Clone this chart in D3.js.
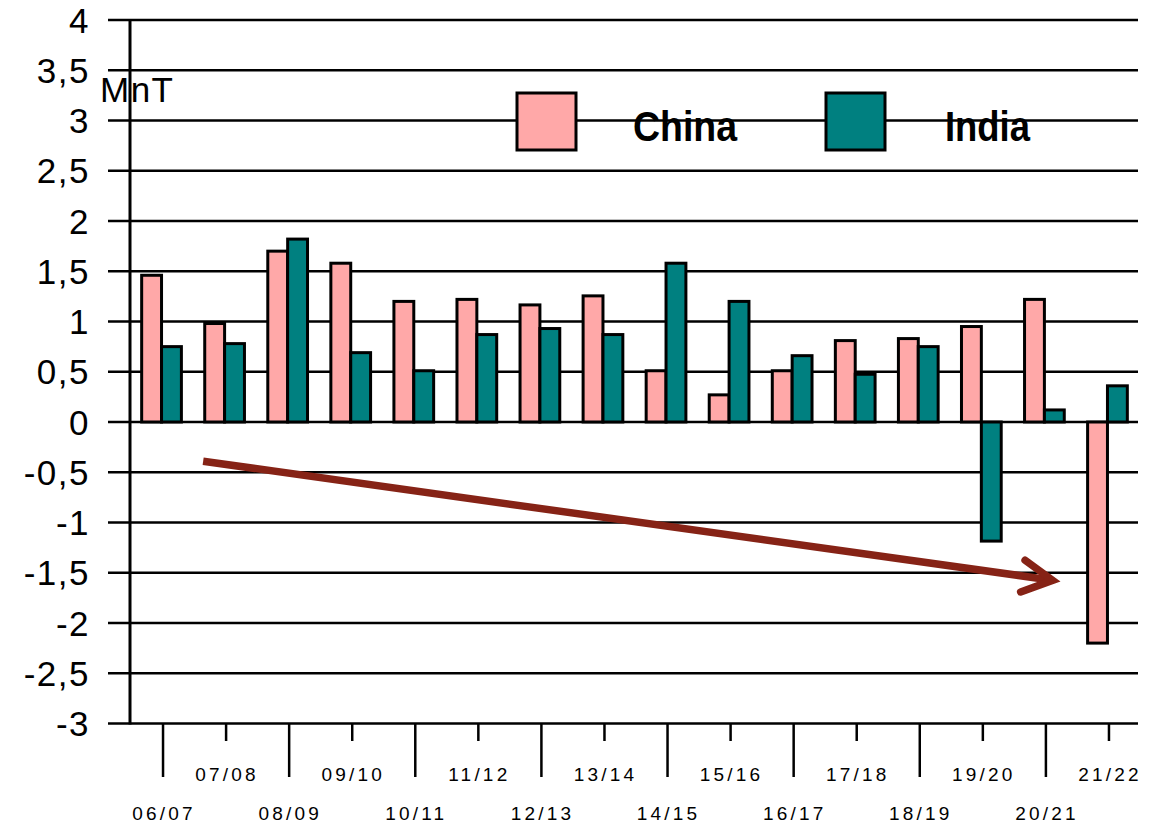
<!DOCTYPE html>
<html>
<head>
<meta charset="utf-8">
<script src="https://cdn.jsdelivr.net/npm/d3@7"></script>
<style>
  html, body { margin: 0; padding: 0; background: #fff; }
  svg { display: block; font-family: "Liberation Sans", Arial, sans-serif; }
</style>
</head>
<body>
<svg id="chart" width="1157" height="824"></svg>
<script>
// Marketing years
const seasons = ["06/07","07/08","08/09","09/10","10/11","11/12","12/13","13/14",
                 "14/15","15/16","16/17","17/18","18/19","19/20","20/21","21/22"];
// Series (million tonnes)
const china = [1.46, 0.98, 1.70, 1.58, 1.20, 1.22, 1.165, 1.255,
               0.51, 0.27, 0.51, 0.81, 0.83, 0.95, 1.22, -2.20];
const india = [0.75, 0.78, 1.82, 0.69, 0.51, 0.87, 0.93, 0.87,
               1.58, 1.20, 0.66, 0.475, 0.75, -1.185, 0.12, 0.36];
const seriesNames = ["China", "India"];
const seriesColors = ["#FFA8A8", "#008080"];
// Value axis ticks
const yTicks = [4, 3.5, 3, 2.5, 2, 1.5, 1, 0.5, 0, -0.5, -1, -1.5, -2, -2.5, -3];
const unitLabel = "MnT";
// Trend annotation: from the 07/08 season towards 20/21
const trendFrom = { season: "07/08", value: -0.39 };
const trendTo   = { season: "20/21", value: -1.575 };

const svg = d3.select("#chart");
const plotLeft = 130, plotRight = 1139, plotTop = 20, plotBottom = 723.5;

const x = d3.scaleBand().domain(seasons).range([plotLeft, plotRight])
  .paddingInner(0.37).paddingOuter(0.185);
const xSeries = d3.scaleBand().domain(seriesNames).range([0, x.bandwidth()]);
const y = d3.scaleLinear().domain([-3, 4]).range([plotBottom, plotTop]);
const step = x.step();

// Horizontal gridlines (one per tick)
svg.append("g").selectAll("line").data(yTicks).join("line")
  .attr("x1", plotLeft - 22).attr("x2", plotRight - 1)
  .attr("y1", d => y(d)).attr("y2", d => y(d))
  .attr("stroke", "#000").attr("stroke-width", 2.5);

// Value-axis labels with decimal commas
svg.append("g").selectAll("text").data(yTicks).join("text")
  .attr("x", 90).attr("y", d => y(d))
  .attr("dy", "0.36em")
  .attr("text-anchor", "end")
  .attr("font-size", 35)
  .attr("letter-spacing", 1.5)
  .text(d => String(d).replace(".", ","));

// Vertical axis line
svg.append("line")
  .attr("x1", plotLeft).attr("x2", plotLeft)
  .attr("y1", plotTop).attr("y2", plotBottom + 1)
  .attr("stroke", "#000").attr("stroke-width", 3);

// Unit label
svg.append("text")
  .attr("x", 100).attr("y", 102)
  .attr("font-size", 35)
  .attr("letter-spacing", 1.5)
  .text(unitLabel);

// Bars
const rows = seasons.map((s, i) => ({ season: s, values: [china[i], india[i]] }));
const groups = svg.append("g").selectAll("g").data(rows).join("g")
  .attr("transform", d => `translate(${x(d.season)},0)`);
groups.selectAll("rect")
  .data(d => d.values.map((v, k) => ({ name: seriesNames[k], color: seriesColors[k], v })))
  .join("rect")
  .attr("x", d => xSeries(d.name))
  .attr("width", xSeries.bandwidth())
  .attr("y", d => y(Math.max(0, d.v)))
  .attr("height", d => Math.abs(y(d.v) - y(0)))
  .attr("fill", d => d.color)
  .attr("stroke", "#000").attr("stroke-width", 3);

// Category axis: ticks alternate long/short with labels in two rows
const cx = s => x(s) + x.bandwidth() / 2;
svg.append("g").selectAll("line").data(seasons).join("line")
  .attr("x1", d => cx(d) + 1.5).attr("x2", d => cx(d) + 1.5)
  .attr("y1", plotBottom).attr("y2", (d, i) => i % 2 === 0 ? 777 : 741)
  .attr("stroke", "#000").attr("stroke-width", 2.5);
svg.append("g").selectAll("text").data(seasons).join("text")
  .attr("x", d => cx(d) + 2.5)
  .attr("y", (d, i) => i % 2 === 0 ? 820 : 781)
  .attr("text-anchor", "middle")
  .attr("font-size", 19)
  .attr("letter-spacing", 3.2)
  .text(d => d);

// Legend
const legendItems = [
  { name: seriesNames[0], color: seriesColors[0], bx: 517, tx: 633, tw: 104 },
  { name: seriesNames[1], color: seriesColors[1], bx: 826, tx: 945, tw: 85 }
];
const lg = svg.append("g").selectAll("g").data(legendItems).join("g");
lg.append("rect")
  .attr("x", d => d.bx).attr("y", 93).attr("width", 59).attr("height", 57)
  .attr("fill", d => d.color).attr("stroke", "#000").attr("stroke-width", 3);
lg.append("text")
  .attr("x", d => d.tx).attr("y", 141)
  .attr("font-size", 42).attr("font-weight", "bold")
  .attr("textLength", d => d.tw).attr("lengthAdjust", "spacingAndGlyphs")
  .text(d => d.name);

// Trend arrow
const ax0 = x(trendFrom.season) - (step - x.bandwidth()) / 2 + 0.16 * step;
const ay0 = y(trendFrom.value);
const ax1 = x(trendTo.season) - (step - x.bandwidth()) / 2 + 0.63 * step;
const ay1 = y(trendTo.value);
const arrowColor = "#862316";
svg.append("line")
  .attr("x1", ax0).attr("y1", ay0).attr("x2", ax1 - 4).attr("y2", ay1 - 0.6)
  .attr("stroke", arrowColor).attr("stroke-width", 7.5);
const ang = Math.atan2(ay0 - ay1, ax0 - ax1);
const headLen = 34, spread = 28 * Math.PI / 180;
const arm = a => [ax1 + headLen * Math.cos(a), ay1 + headLen * Math.sin(a)];
const [hx1, hy1] = arm(ang + spread), [hx2, hy2] = arm(ang - spread);
svg.append("path")
  .attr("d", `M${hx1},${hy1}L${ax1},${ay1}L${hx2},${hy2}`)
  .attr("fill", "none").attr("stroke", arrowColor).attr("stroke-width", 7.5)
  .attr("stroke-linecap", "round").attr("stroke-linejoin", "miter");
</script>
</body>
</html>
